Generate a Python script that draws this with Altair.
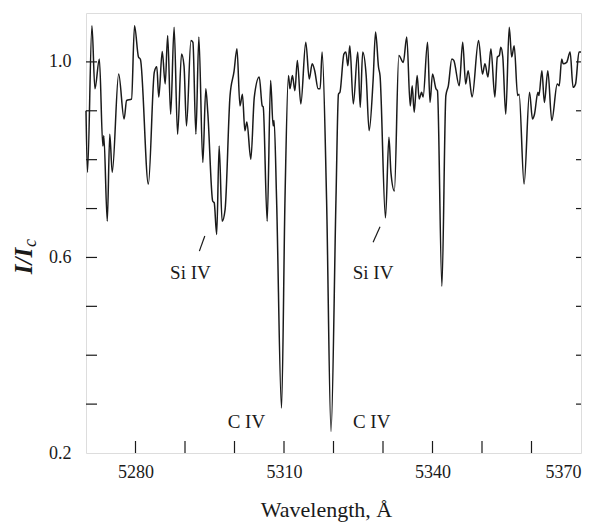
import altair as alt
import pandas as pd

wavelength = [5270.0, 5270.3, 5271.2, 5271.8, 5272.7, 5273.4, 5273.6, 5274.3, 5274.8, 5275.3,
              5276.6, 5277.7, 5278.2, 5279.2, 5279.8, 5280.6, 5281.0, 5282.6, 5283.8, 5284.3,
              5284.7, 5285.4, 5286.0, 5286.5, 5287.1, 5287.8, 5288.5, 5289.3, 5289.8, 5290.3,
              5291.2, 5291.6, 5292.2, 5292.8, 5293.6, 5294.2, 5294.6, 5295.6, 5295.9, 5296.4,
              5296.9, 5297.5, 5298.1, 5299.1, 5299.9, 5300.5, 5301.1, 5301.6, 5302.1, 5302.5,
              5303.3, 5304.0, 5305.0, 5305.6, 5305.8, 5306.6, 5307.3, 5307.8, 5308.0, 5308.5,
              5309.5, 5310.2, 5310.9, 5311.2, 5311.7, 5312.2, 5312.7, 5313.4, 5314.4, 5315.1,
              5315.7, 5316.2, 5316.9, 5317.3, 5317.7, 5318.6, 5319.5, 5320.5, 5321.0, 5321.3,
              5322.1, 5322.5, 5322.9, 5323.3, 5324.0, 5324.9, 5325.4, 5325.9, 5326.6, 5327.2,
              5328.0, 5328.5, 5329.1, 5329.4, 5330.5, 5331.2, 5331.6, 5332.3, 5333.2, 5334.1,
              5334.8, 5335.5, 5335.9, 5336.3, 5336.9, 5337.3, 5337.8, 5338.1, 5339.0, 5339.5,
              5340.0, 5340.7, 5341.0, 5341.9, 5342.7, 5343.2, 5343.9, 5344.3, 5345.4, 5346.1,
              5346.7, 5347.2, 5348.0, 5349.3, 5350.1, 5350.6, 5351.2, 5351.8, 5352.6, 5353.1,
              5353.5, 5353.8, 5354.2, 5354.8, 5355.5, 5356.0, 5356.5, 5357.2, 5357.5, 5358.5,
              5359.6, 5360.2, 5360.6, 5361.3, 5361.5, 5362.1, 5362.6, 5363.3, 5364.1, 5365.2,
              5365.6, 5366.1, 5366.4, 5367.1, 5367.8, 5368.4, 5368.9, 5369.6, 5370.0]

intensity = [0.900, 0.774, 1.074, 0.945, 1.006, 0.828, 0.849, 0.674, 0.852, 0.774,
             0.975, 0.883, 0.921, 0.924, 1.074, 1.010, 1.005, 0.750, 0.979, 0.990,
             0.928, 1.021, 0.955, 1.054, 0.893, 1.071, 0.852, 1.016, 0.992, 0.869,
             1.044, 1.040, 0.852, 1.051, 0.794, 0.945, 0.897, 0.715, 0.712, 0.647,
             0.828, 0.674, 0.698, 0.931, 0.980, 1.027, 0.910, 0.934, 0.859, 0.877,
             0.801, 0.928, 0.969, 0.910, 0.908, 0.674, 0.962, 0.869, 0.880, 0.719,
             0.292, 0.719, 0.972, 0.945, 0.972, 0.941, 1.003, 0.914, 1.040, 0.965,
             0.996, 0.982, 0.945, 0.945, 1.020, 0.719, 0.244, 0.719, 0.934, 0.938,
             1.016, 1.020, 0.992, 1.033, 0.914, 1.020, 0.907, 1.020, 0.972, 0.859,
             0.962, 1.061, 0.989, 0.972, 0.681, 0.846, 0.774, 0.736, 1.013, 0.999,
             1.051, 0.910, 0.951, 0.897, 0.972, 0.924, 0.938, 0.928, 1.040, 0.917,
             0.975, 0.945, 0.941, 0.541, 0.931, 0.951, 1.006, 1.003, 0.951, 1.040,
             0.955, 0.982, 0.928, 1.044, 0.975, 0.996, 0.969, 1.027, 0.928, 1.010,
             1.013, 1.030, 1.010, 0.893, 1.071, 1.010, 1.033, 0.931, 0.934, 0.750,
             0.938, 0.883, 0.893, 0.938, 0.931, 0.982, 0.917, 0.982, 0.880, 0.955,
             0.951, 1.006, 0.996, 0.999, 1.020, 0.948, 0.955, 1.020, 1.020]

x_labels = [5280, 5310, 5340, 5370]
y_labels = [0.2, 0.6, 1.0]
x_minor = [5280, 5290, 5300, 5310, 5320, 5330, 5340, 5350, 5360]
y_minor = [0.3, 0.4, 0.5, 0.6, 0.7, 0.8, 0.9, 1.0]

note_text = ["Si IV", "Si IV", "C IV", "C IV"]
note_wl = [5291.1, 5328.0, 5302.4, 5327.7]
note_I = [0.555, 0.555, 0.251, 0.251]

slash_wl = [5292.9, 5328.0]
slash_wl2 = [5294.0, 5329.4]
slash_I = [0.613, 0.631]
slash_I2 = [0.644, 0.663]

W, H = 495, 440
FONT = "Liberation Serif"
INK = "#1a1a1a"

xs = alt.Scale(domain=[5270, 5370], nice=False, zero=False)
ys = alt.Scale(domain=[0.2, 1.1], nice=False, zero=False)

x_axis = alt.Axis(values=x_labels, title="Wavelength, Å", ticks=False, tickSize=0,
                  grid=False, domain=False, labelFontSize=18, labelPadding=10,
                  labelColor=INK, titleFontSize=22, titleFontWeight="normal",
                  titlePadding=18, titleColor=INK, labelFont=FONT, titleFont=FONT,
                  titleX=240, format="d")
y_axis = alt.Axis(values=y_labels, title=None, ticks=False, tickSize=0, grid=False,
                  domain=False, labelFontSize=18, labelPadding=15, labelColor=INK,
                  labelFont=FONT, format=".1f")


def X(field):
    return alt.X(field, type="quantitative", scale=xs, axis=x_axis)


def Y(field):
    return alt.Y(field, type="quantitative", scale=ys, axis=y_axis)


df = pd.DataFrame({"wl": wavelength, "I": intensity})

line = alt.Chart(df).mark_line(color=INK, strokeWidth=1.5, interpolate="monotone").encode(
    x=X("wl"), y=Y("I"))

xt = pd.DataFrame({"wl": x_minor})
yt = pd.DataFrame({"I": y_minor})

bottom_ticks = alt.Chart(xt).mark_rule(color=INK, strokeWidth=1.2).encode(
    x=X("wl"), y=alt.value(H), y2=alt.value(H - 12))
left_ticks = alt.Chart(yt).mark_rule(color=INK, strokeWidth=1.2).encode(
    y=Y("I"), x=alt.value(0), x2=alt.value(11))
right_ticks = alt.Chart(yt).mark_rule(color=INK, strokeWidth=1.2).encode(
    y=Y("I"), x=alt.value(W - 5), x2=alt.value(W))

notes_df = pd.DataFrame({"wl": note_wl, "I": note_I, "txt": note_text})
notes = alt.Chart(notes_df).mark_text(font=FONT, fontSize=19, color=INK, align="center",
                                      baseline="alphabetic").encode(
    x=X("wl"), y=Y("I"), text="txt:N")

slash_df = pd.DataFrame({"wl": slash_wl, "wl2": slash_wl2, "I": slash_I, "I2": slash_I2})
slashes = alt.Chart(slash_df).mark_rule(color=INK, strokeWidth=1.2).encode(
    x=X("wl"), x2="wl2", y=Y("I"), y2="I2")

one = alt.Data(values=[{}])
ytitle = alt.Chart(one).mark_text(text="I/I", font=FONT, fontSize=25, fontStyle="italic",
                                  fontWeight="bold", color=INK, angle=270, align="center",
                                  baseline="alphabetic").encode(
    x=alt.value(-54), y=alt.value(248))
ysub = alt.Chart(one).mark_text(text="c", font=FONT, fontSize=18, fontStyle="italic",
                                color=INK, angle=270, align="left",
                                baseline="alphabetic").encode(
    x=alt.value(-50), y=alt.value(234))

chart = alt.layer(line, bottom_ticks, left_ticks, right_ticks, notes, slashes,
                  ytitle, ysub).properties(
    width=W, height=H, autosize="none",
    padding={"left": 78, "top": 5, "right": 7, "bottom": 77},
).configure_view(stroke=INK, strokeWidth=1.4).configure(font=FONT, background="white")

chart.save("out.html", embed_options={"renderer": "svg", "actions": False})
